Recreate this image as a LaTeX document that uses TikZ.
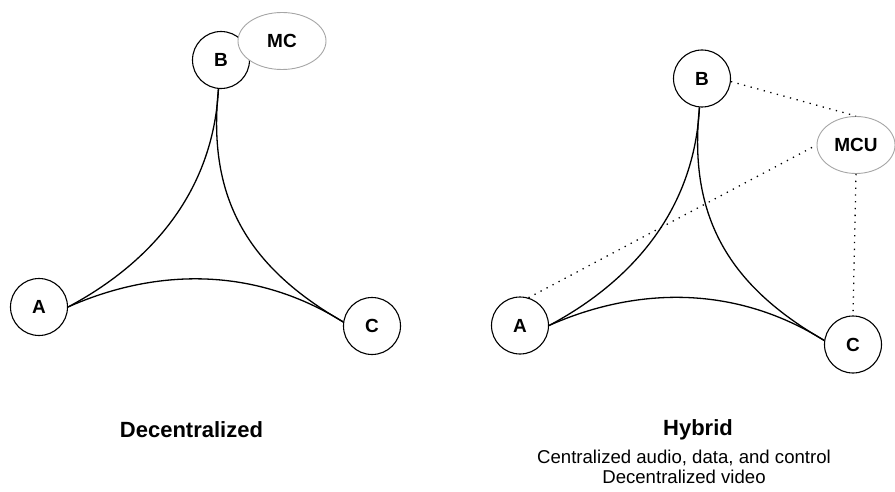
\documentclass[tikz,border=0pt]{standalone}
\usepackage{fontspec}
\setmainfont{Liberation Sans}
\usetikzlibrary{shapes.geometric}

\begin{document}
\begin{tikzpicture}[x=1pt, y=1pt,
  station/.style={circle, draw=black, line width=1.1pt, minimum size=57pt,
    inner sep=0pt, fill=white, font=\fontsize{19}{22}\selectfont\bfseries},
  unit/.style={ellipse, draw=black!35, line width=0.9pt, fill=white,
    inner sep=0pt, minimum width=#1, minimum height=57pt,
    font=\fontsize{19}{22}\selectfont\bfseries},
  link/.style={line width=1.3pt, draw=black},
  ctrl/.style={line width=1.3pt, draw=black, dash pattern=on 1.3pt off 5.5pt},
  title/.style={anchor=base, font=\fontsize{22}{26}\selectfont\bfseries},
  note/.style={anchor=base, font=\fontsize{18.6}{22}\selectfont}]

\useasboundingbox (0,0) rectangle (895,-492);

% ---------- decentralized conference ----------
\node[station] (A1) at (39,-307) {A};
\node[station] (B1) at (221,-60) {B};
\node[station] (C1) at (372,-326) {C};
\node[unit=88pt] (MC) at (282,-41) {MC};

\draw[link] (A1.east) to[out=28, in=-93, out distance=82pt, in distance=112pt] (B1.-95);
\draw[link] (B1.-95) to[out=-96, in=150, out distance=112pt, in distance=108pt] (C1.172);
\draw[link] (A1.east) to[out=24, in=148, out distance=90pt, in distance=110pt] (C1.172);

\node[title] (t1) at (191.5,-437) {Decentralized};

% ---------- hybrid conference ----------
\node[station] (A2) at (520,-325.5) {A};
\node[station] (B2) at (702,-78.5) {B};
\node[station] (C2) at (853,-344.5) {C};
\node[unit=78pt] (MCU) at (856,-145) {MCU};

\draw[link] (A2.east) to[out=28, in=-93, out distance=82pt, in distance=112pt] (B2.-95);
\draw[link] (B2.-95) to[out=-96, in=150, out distance=112pt, in distance=108pt] (C2.172);
\draw[link] (A2.east) to[out=24, in=148, out distance=90pt, in distance=110pt] (C2.172);

\draw[ctrl] (B2.-6) -- (MCU.north);
\draw[ctrl] (A2.73) -- (MCU.west);
\draw[ctrl] (MCU.south) -- (C2.north);

\node[title] (t2) at (698,-435) {Hybrid};
\node[note] (s1) at (684,-463) {Centralized audio, data, and control};
\node[note] (s2) at (684,-483) {Decentralized video};
\end{tikzpicture}
\end{document}
